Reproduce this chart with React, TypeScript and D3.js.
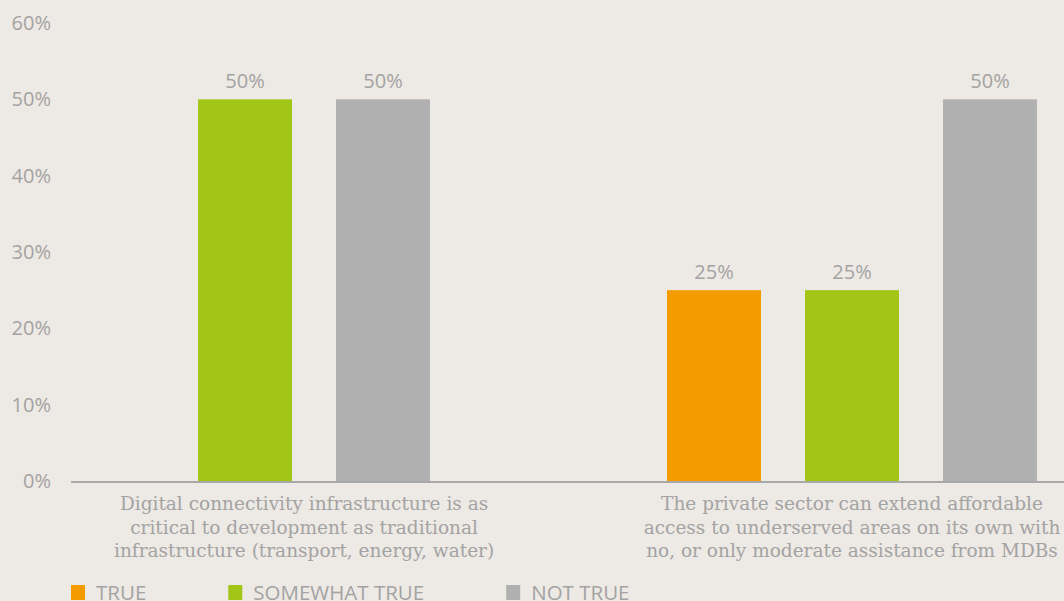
import React, { useEffect, useRef } from "react";
import * as d3 from "d3";

const categories = [
  "Digital connectivity infrastructure is as critical to development as traditional infrastructure (transport, energy, water)",
  "The private sector can extend affordable access to underserved areas on its own with no, or only moderate assistance from MDBs",
];
const categoryLines = [
  ["Digital connectivity infrastructure is as", "critical to development as traditional", "infrastructure (transport, energy, water)"],
  ["The private sector can extend affordable", "access to underserved areas on its own with", "no, or only moderate assistance from MDBs"],
];
const seriesNames = ["TRUE", "SOMEWHAT TRUE", "NOT TRUE"];
const seriesColors = ["#f49b00", "#a2c617", "#b0b0b0"];
const trueValues = [0, 25];
const somewhatTrueValues = [50, 25];
const notTrueValues = [50, 50];
const yTicks = [0, 10, 20, 30, 40, 50, 60];

const W = 1064;
const H = 601;

export default function App() {
  const ref = useRef<SVGSVGElement | null>(null);
  useEffect(() => {
    document.body.style.margin = "0";
    const svg = d3.select(ref.current!);
    svg.selectAll("*").remove();
    const series = [trueValues, somewhatTrueValues, notTrueValues];
    const textColor = "#a3a3a3";
    const sans = "'Open Sans', sans-serif";
    const serif = "'DejaVu Serif', serif";

    svg.append("rect").attr("width", W).attr("height", H).attr("fill", "#ede9e4");

    const y = d3.scaleLinear().domain([0, 60]).range([481, 23]);
    const x0 = d3.scaleBand<number>().domain(categories.map((_, i) => i)).range([-58.5, 1155.5]);
    const x1 = d3
      .scaleBand<number>()
      .domain(seriesNames.map((_, i) => i))
      .range([0, x0.bandwidth()])
      .paddingInner(0.319)
      .paddingOuter(0.859);

    // y tick labels
    svg
      .append("g")
      .selectAll("text")
      .data(yTicks)
      .join("text")
      .attr("x", 51)
      .attr("y", (d) => y(d))
      .attr("dy", "0.35em")
      .attr("text-anchor", "end")
      .attr("font-family", sans)
      .attr("font-size", 20)
      .attr("fill", textColor)
      .text((d) => `${d}%`);

    // bars
    categories.forEach((_, ci) => {
      series.forEach((vals, si) => {
        const v = vals[ci];
        if (v <= 0) return;
        const bx = x0(ci)! + x1(si)!;
        svg
          .append("rect")
          .attr("x", bx)
          .attr("y", y(v))
          .attr("width", x1.bandwidth())
          .attr("height", y(0) - y(v))
          .attr("fill", seriesColors[si]);
        svg
          .append("text")
          .attr("x", bx + x1.bandwidth() / 2)
          .attr("y", y(v) - 11)
          .attr("text-anchor", "middle")
          .attr("font-family", sans)
          .attr("font-size", 20)
          .attr("fill", textColor)
          .text(`${v}%`);
      });
    });

    // axis line
    svg
      .append("line")
      .attr("x1", 71)
      .attr("x2", W)
      .attr("y1", y(0) + 1)
      .attr("y2", y(0) + 1)
      .attr("stroke", "#a8a8a8")
      .attr("stroke-width", 2);

    // category labels
    categories.forEach((_, ci) => {
      const center = x0(ci)! + x0.bandwidth() / 2;
      const g = svg.append("g");
      const t = g
        .append("text")
        .attr("text-anchor", "middle")
        .attr("font-family", serif)
        .attr("font-size", 18.5)
        .attr("fill", textColor);
      categoryLines[ci].forEach((line, li) => {
        t.append("tspan").attr("x", 0).attr("y", 510 + li * 23.7).text(line);
      });
      const bb = (t.node() as SVGTextElement).getBBox();
      const left = Math.max(center - bb.width / 2, 114);
      g.attr("transform", `translate(${left + bb.width / 2},0)`);
    });

    // legend
    let lx = 71;
    seriesNames.forEach((name, si) => {
      svg
        .append("rect")
        .attr("x", lx)
        .attr("y", 585)
        .attr("width", 14)
        .attr("height", 15)
        .attr("fill", seriesColors[si]);
      const t = svg
        .append("text")
        .attr("x", lx + 25)
        .attr("y", 600)
        .attr("font-family", sans)
        .attr("font-size", 20.5)
        .attr("fill", textColor)
        .text(name);
      const w = (t.node() as SVGTextElement).getComputedTextLength();
      lx += 25 + w + 82;
    });
  }, []);
  return <svg ref={ref} width={W} height={H} style={{ display: "block" }} />;
}
